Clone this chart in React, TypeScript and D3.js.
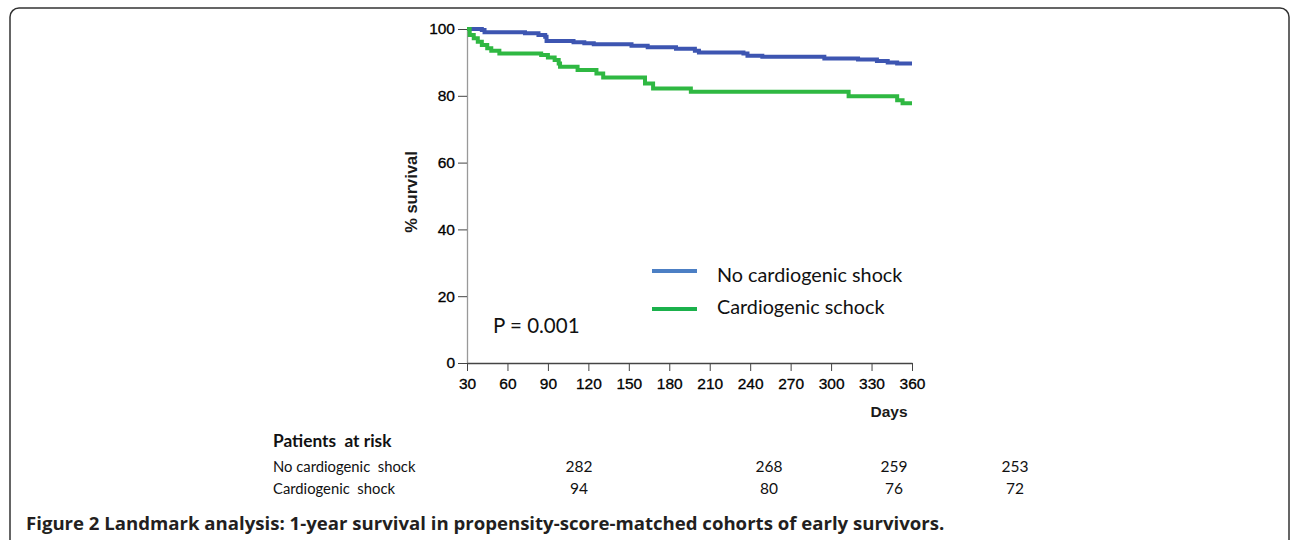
import { useEffect, useRef } from "react";
import * as d3 from "d3";

// Kaplan-Meier steps (day, % survival)
const noShockDays = [30, 41, 43, 73, 83, 88, 89, 109, 117, 124, 152, 164, 185, 199, 202, 235, 238, 249, 295, 320, 334, 342, 349, 360];
const noShockSurv = [100, 99.7, 99.0, 98.7, 98.2, 97.7, 96.4, 96.0, 95.7, 95.4, 95.0, 94.5, 94.1, 93.5, 93.0, 92.7, 92.0, 91.7, 91.2, 90.9, 90.4, 90.0, 89.7, 89.7];

const shockDays = [30, 32, 35, 38, 41, 45, 48, 54, 85, 90, 95, 98, 99, 112, 126, 131, 162, 168, 196, 313, 349, 353, 360];
const shockSurv = [100, 98.2, 97.2, 96.2, 95.2, 94.2, 93.5, 92.7, 92.2, 91.5, 90.7, 89.7, 88.7, 87.7, 86.7, 85.5, 83.7, 82.2, 81.2, 79.9, 78.7, 77.8, 77.8];

const xTicks = [30, 60, 90, 120, 150, 180, 210, 240, 270, 300, 330, 360];
const yTicks = [0, 20, 40, 60, 80, 100];

const seriesNames = ["No cardiogenic shock", "Cardiogenic schock"];
const riskRowNames = ["No cardiogenic  shock", "Cardiogenic  shock"];
const riskDays = [30, 180, 270, 360];
const riskNoShock = [282, 268, 259, 253];
const riskShock = [94, 80, 76, 72];

const pValue = "P = 0.001";
const caption = "Figure 2 Landmark analysis: 1-year survival in propensity-score-matched cohorts of early survivors.";

export default function App() {
  const svgRef = useRef<SVGSVGElement | null>(null);

  useEffect(() => {
    if (!svgRef.current) return;
    const svg = d3.select(svgRef.current);
    svg.selectAll("*").remove();

    const x = d3.scaleLinear().domain([30, 360]).range([467, 912]);
    const y = d3.scaleLinear().domain([0, 100]).range([363, 29]);
    const axisFont = "'Liberation Sans', Arial, sans-serif";
    const textFont = "Lato, 'Open Sans', sans-serif";

    // frame
    svg
      .append("rect")
      .attr("x", 10)
      .attr("y", 8)
      .attr("width", 1279)
      .attr("height", 580)
      .attr("rx", 9)
      .attr("fill", "#fff")
      .attr("stroke", "#333")
      .attr("stroke-width", 1.5);

    // axes
    const yAxis = svg
      .append("g")
      .attr("transform", `translate(${x(30)},0)`)
      .call(d3.axisLeft(y).tickValues(yTicks).tickSize(9).tickSizeOuter(0).tickPadding(3));
    yAxis.select(".domain").attr("stroke", "#999").attr("stroke-width", 1.3);
    yAxis.selectAll(".tick line").attr("stroke", "#444");

    const xAxis = svg
      .append("g")
      .attr("transform", `translate(0,${y(0)})`)
      .call(d3.axisBottom(x).tickValues(xTicks).tickSize(8).tickSizeOuter(0).tickPadding(7));
    xAxis.select(".domain").attr("stroke", "#444").attr("stroke-width", 1.3);
    xAxis.selectAll(".tick line").attr("stroke", "#444");

    svg
      .selectAll(".tick text")
      .attr("font-family", axisFont)
      .attr("font-size", 15.5)
      .attr("fill", "#000")
      .attr("stroke", "#000")
      .attr("stroke-width", 0.3);

    svg
      .append("text")
      .attr("transform", "translate(411,192) rotate(-90)")
      .attr("text-anchor", "middle")
      .attr("dy", "0.35em")
      .attr("font-family", axisFont)
      .attr("font-weight", "bold")
      .attr("font-size", 16.5)
      .attr("fill", "#1a1a1a")
      .text("% survival");

    svg
      .append("text")
      .attr("x", 889)
      .attr("y", 412)
      .attr("text-anchor", "middle")
      .attr("dy", "0.35em")
      .attr("font-family", axisFont)
      .attr("font-weight", "bold")
      .attr("font-size", 15.5)
      .attr("fill", "#1a1a1a")
      .text("Days");

    // survival curves
    const line = d3
      .line<[number, number]>()
      .x((d) => x(d[0]))
      .y((d) => y(d[1]))
      .curve(d3.curveStepAfter);

    const series = [
      { days: noShockDays, surv: noShockSurv, color: "#3d55b1" },
      { days: shockDays, surv: shockSurv, color: "#2fb842" },
    ];
    series.forEach((s) => {
      const pts = s.days.map((d, i) => [d, s.surv[i]] as [number, number]);
      svg
        .append("path")
        .datum(pts)
        .attr("fill", "none")
        .attr("stroke", s.color)
        .attr("stroke-width", 4)
        .attr("d", line);
    });

    // legend
    const legendColors = ["#4c7fc4", "#1bb14c"];
    seriesNames.forEach((name, i) => {
      const ly = 271 + i * 38;
      svg
        .append("line")
        .attr("x1", 652)
        .attr("x2", 697)
        .attr("y1", ly)
        .attr("y2", ly)
        .attr("stroke", legendColors[i])
        .attr("stroke-width", 4);
      svg
        .append("text")
        .attr("x", 717)
        .attr("y", 275 + i * 32)
        .attr("dy", "0.35em")
        .attr("font-family", textFont)
        .attr("font-size", 19.8)
        .attr("fill", "#111")
        .text(name);
    });

    svg
      .append("text")
      .attr("x", 493)
      .attr("y", 326)
      .attr("dy", "0.35em")
      .attr("font-family", textFont)
      .attr("font-size", 20.5)
      .attr("fill", "#111")
      .text(pValue);

    // patients at risk table
    const riskX = d3.scaleLinear().domain(riskDays).range([579, 769, 894, 1015]);
    svg
      .append("text")
      .attr("x", 273)
      .attr("y", 441)
      .attr("dy", "0.35em")
      .attr("font-family", textFont)
      .attr("font-weight", "bold")
      .attr("font-size", 17.3)
      .attr("fill", "#111")
      .style("white-space", "pre")
      .text("Patients  at risk");

    [riskNoShock, riskShock].forEach((row, r) => {
      const ry = 467 + r * 22;
      svg
        .append("text")
        .attr("x", 273)
        .attr("y", ry)
        .attr("dy", "0.35em")
        .attr("font-family", textFont)
        .attr("font-size", 14.8)
        .attr("fill", "#111")
        .style("white-space", "pre")
        .text(riskRowNames[r]);
      svg
        .selectAll(null)
        .data(row)
        .enter()
        .append("text")
        .attr("x", (_, i) => riskX(riskDays[i]))
        .attr("y", ry)
        .attr("dy", "0.35em")
        .attr("text-anchor", "middle")
        .attr("font-family", textFont)
        .attr("font-size", 15.5)
        .attr("fill", "#111")
        .text((d) => d);
    });

    // caption
    svg
      .append("text")
      .attr("x", 26)
      .attr("y", 523)
      .attr("dy", "0.35em")
      .attr("font-family", "'Open Sans', Lato, sans-serif")
      .attr("font-weight", "bold")
      .attr("font-size", 18.6)
      .attr("fill", "#231f20")
      .text(caption);
  }, []);

  return (
    <svg
      ref={svgRef}
      width={1292}
      height={540}
      style={{ position: "absolute", left: 0, top: 0, background: "#fff" }}
    />
  );
}
